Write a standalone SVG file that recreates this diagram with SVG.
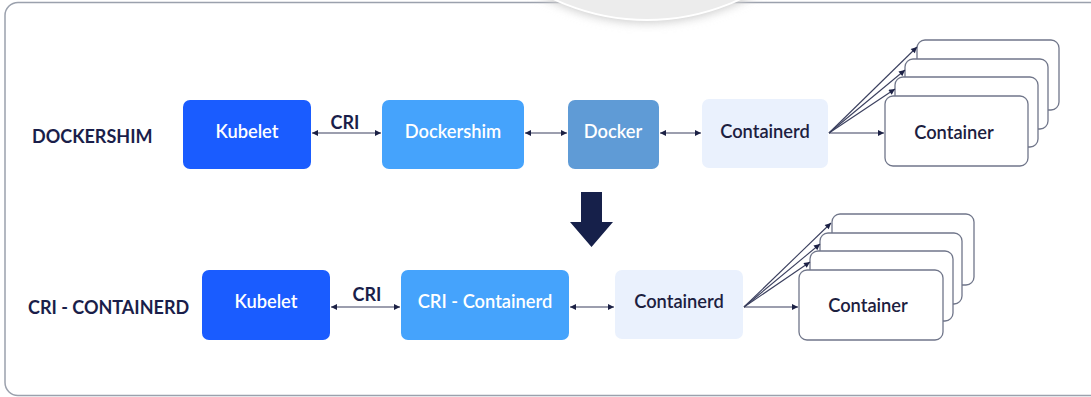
<svg xmlns="http://www.w3.org/2000/svg" width="1091" height="397" viewBox="0 0 1091 397">
<style>
.frame{fill:#ffffff;stroke:#9ba1ad;stroke-width:1.5}
.lbl{font-family:"Lato","Liberation Sans",sans-serif;font-weight:700;fill:#1a1e4a}
.nt{font-family:"Lato","Liberation Sans",sans-serif;font-weight:600;font-size:18.3px;text-anchor:middle}
.w{fill:#ffffff}
.d{fill:#1c2040}
.kub{fill:#1a5cff}
.shim{fill:#45a3fc}
.dock{fill:#5f9bd6}
.ctd{fill:#eaf1fd}
.cnt{fill:#ffffff;stroke:#70768a;stroke-width:1.3}
.ln{stroke:#3a3f5e;stroke-width:1.1;fill:none}
</style>
<defs>
<marker id="ah" viewBox="0 0 10 10" refX="10" refY="5" markerWidth="7" markerHeight="6" markerUnits="userSpaceOnUse" orient="auto-start-reverse">
<path d="M0,0 L10,5 L0,10 z" fill="#1c2145"/>
</marker>
<filter id="sh" x="-20%" y="-20%" width="140%" height="160%">
<feGaussianBlur stdDeviation="5"/>
</filter>
</defs>
<rect width="1091" height="397" fill="#ffffff"/>
<rect class="frame" x="5" y="2.5" width="1110" height="393" rx="13"/>
<circle cx="647" cy="-197" r="220" fill="#cfcfcf" filter="url(#sh)"/>
<circle cx="647" cy="-199" r="219" fill="#ececec" stroke="#ffffff" stroke-width="2"/>

<text class="lbl" x="32" y="143" font-size="18">DOCKERSHIM</text>
<text class="lbl" x="28" y="314" font-size="18">CRI - CONTAINERD</text>

<g id="kubelet1"><rect class="kub" x="183" y="100" width="128" height="69" rx="7"/><text class="nt w" x="247" y="138">Kubelet</text></g>
<g id="dockershim"><rect class="shim" x="382" y="100" width="142" height="69" rx="7"/><text class="nt w" x="453" y="138">Dockershim</text></g>
<g id="docker"><rect class="dock" x="568" y="100" width="91" height="69" rx="7"/><text class="nt w" x="613" y="138">Docker</text></g>
<g id="containerd1"><rect class="ctd" x="702" y="99" width="126" height="69" rx="7"/><text class="nt d" x="765" y="138">Containerd</text></g>
<g id="containers1">
<rect class="cnt" x="917" y="40" width="142" height="70" rx="8"/>
<rect class="cnt" x="905" y="59" width="143" height="70" rx="8"/>
<rect class="cnt" x="895" y="77" width="143" height="70" rx="8"/>
<rect class="cnt" x="885" y="96" width="143" height="70" rx="8"/>
<text class="nt d" x="954" y="139">Container</text>
</g>

<g id="kubelet2"><rect class="kub" x="202" y="270" width="128" height="70" rx="7"/><text class="nt w" x="266" y="308">Kubelet</text></g>
<g id="cri-containerd"><rect class="shim" x="401" y="270" width="168" height="70" rx="7"/><text class="nt w" x="485" y="308">CRI - Containerd</text></g>
<g id="containerd2"><rect class="ctd" x="615" y="270" width="128" height="69" rx="7"/><text class="nt d" x="679" y="308">Containerd</text></g>
<g id="containers2">
<rect class="cnt" x="832" y="214" width="142" height="71" rx="8"/>
<rect class="cnt" x="820" y="233" width="142" height="71" rx="8"/>
<rect class="cnt" x="810" y="251" width="143" height="70" rx="8"/>
<rect class="cnt" x="799" y="270" width="144" height="70" rx="8"/>
<text class="nt d" x="868" y="312">Container</text>
</g>

<g id="transition"><path d="M581,192 H602 V222 H613 L591.5,247 L570,222 H581 Z" fill="#16204a"/></g>

<g id="connectors">
<line class="ln" x1="312" y1="133" x2="381" y2="133" marker-start="url(#ah)" marker-end="url(#ah)"/>
<text class="lbl" x="345" y="129" font-size="18" text-anchor="middle">CRI</text>
<line class="ln" x1="525" y1="133" x2="567" y2="133" marker-start="url(#ah)" marker-end="url(#ah)"/>
<line class="ln" x1="660" y1="133" x2="701" y2="133" marker-start="url(#ah)" marker-end="url(#ah)"/>
<line class="ln" x1="829" y1="133" x2="884" y2="133" marker-end="url(#ah)"/>
<line class="ln" x1="829" y1="133" x2="895" y2="89" marker-end="url(#ah)"/>
<line class="ln" x1="829" y1="133" x2="905" y2="70" marker-end="url(#ah)"/>
<line class="ln" x1="829" y1="133" x2="917" y2="47" marker-end="url(#ah)"/>

<line class="ln" x1="331" y1="307" x2="400" y2="307" marker-start="url(#ah)" marker-end="url(#ah)"/>
<text class="lbl" x="367" y="301" font-size="18" text-anchor="middle">CRI</text>
<line class="ln" x1="570" y1="307" x2="614" y2="307" marker-start="url(#ah)" marker-end="url(#ah)"/>
<line class="ln" x1="744" y1="307" x2="798" y2="307" marker-end="url(#ah)"/>
<line class="ln" x1="744" y1="307" x2="810" y2="262" marker-end="url(#ah)"/>
<line class="ln" x1="744" y1="307" x2="820" y2="244" marker-end="url(#ah)"/>
<line class="ln" x1="744" y1="307" x2="831" y2="223" marker-end="url(#ah)"/>
</g>
</svg>
